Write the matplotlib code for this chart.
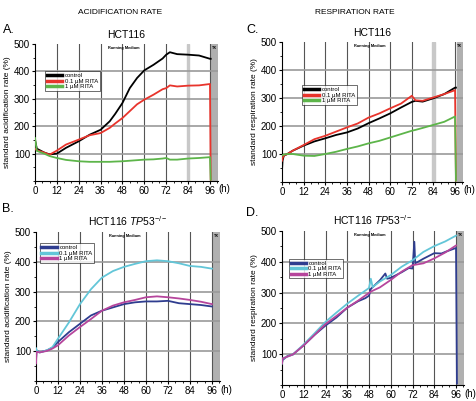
import matplotlib
matplotlib.use('Agg')
import matplotlib.pyplot as plt
from matplotlib.ticker import MultipleLocator

plt.rcParams['font.family'] = ['Liberation Sans', 'DejaVu Sans']
plt.rcParams['mathtext.fontset'] = 'custom'
plt.rcParams['mathtext.it'] = 'Liberation Sans:italic'
plt.rcParams['mathtext.rm'] = 'Liberation Sans'

labels = ['control', '0.1 \u00b5M RITA', '1 \u00b5M RITA']

# panel A: acidification, HCT116
a_hrs = [0, 1, 5, 8, 12, 17, 24, 30, 36, 41, 44, 48, 52, 56, 60, 65, 70, 72, 74, 78, 84, 90, 96, 96.4]
a_ctrl = [150, 118, 104, 97, 100, 121, 145, 169, 187, 218, 245, 285, 339, 376, 404, 424, 447, 461, 470, 463, 461, 458, 446, 446]
a_rita01 = [118, 112, 104, 96, 111, 133, 151, 167, 175, 194, 210, 230, 255, 280, 297, 315, 335, 339, 349, 345, 348, 349, 354, 5]
a_rita1 = [157, 110, 100, 91, 84, 77, 72, 70, 70, 70, 71, 72, 74, 76, 78, 79, 82, 84, 78, 78, 82, 84, 87, 5]

# panel C: respiration, HCT116
c_hrs = [0, 0.3, 1, 3, 6, 12, 18, 24, 30, 36, 42, 48, 54, 60, 66, 72, 74, 78, 84, 90, 96, 96.5]
c_ctrl = [41, 76, 94, 100, 112, 130, 145, 156, 168, 177, 191, 210, 227, 245, 266, 286, 290, 287, 299, 314, 337, 337]
c_rita01 = [76, 85, 95, 100, 112, 132, 153, 165, 180, 195, 209, 230, 245, 263, 280, 308, 292, 290, 302, 314, 328, 5]
c_rita1 = [94, 96, 98, 100, 100, 94, 93, 100, 108, 118, 127, 138, 147, 159, 171, 183, 186, 193, 204, 215, 234, 5]

# panel B: acidification, HCT116 TP53-/-
b_hrs = [0, 0.3, 2, 6, 9, 12, 18, 24, 30, 36, 42, 48, 54, 60, 66, 72, 78, 84, 90, 96]
b_ctrl = [70, 103, 96, 103, 112, 131, 164, 192, 220, 236, 247, 258, 264, 267, 267, 269, 261, 258, 255, 250]
b_rita01 = [110, 103, 96, 103, 114, 142, 197, 258, 308, 347, 369, 383, 393, 402, 405, 402, 395, 386, 383, 377]
b_rita1 = [59, 98, 96, 101, 109, 120, 153, 181, 208, 236, 253, 264, 272, 281, 284, 281, 277, 272, 266, 258]

# panel D: respiration, HCT116 TP53-/-
d_hrs_ctrl = [0, 0.3, 3, 6, 12, 18, 24, 30, 36, 42, 46, 48, 49, 54, 57, 58, 60, 66, 70, 72, 73, 73.5, 78, 84, 88, 90, 96, 96.5]
d_ctrl = [70, 81, 94, 99, 129, 163, 193, 219, 251, 272, 282, 290, 312, 340, 362, 345, 348, 366, 380, 378, 465, 395, 410, 428, 427, 432, 445, 5]
d_hrs = [0, 0.3, 6, 12, 18, 24, 30, 36, 42, 48, 49, 50, 54, 60, 66, 72, 78, 84, 90, 96]
d_rita01 = [70, 86, 99, 132, 168, 205, 235, 264, 290, 315, 345, 318, 336, 357, 384, 405, 432, 451, 466, 485]
d_rita1 = [70, 86, 99, 129, 163, 198, 224, 251, 274, 299, 303, 306, 317, 341, 368, 389, 395, 411, 430, 453]

col_p53 = ['black', '#e8342c', '#5db54a']
col_ko = ['#2f3d8f', '#63c6d8', '#b6459c']

W, H = 477, 401


def px_rect(left, top, right, bottom):
    return [left / W, 1 - bottom / H, (right - left) / W, (bottom - top) / H]


def draw_panel(rect, series, colors, title, ylabel, letter, letter_xy, leg_xy, light84=False):
    ax = fig.add_axes(rect)
    ax.set_xlim(0, 100.4)
    ax.set_ylim(0, 500)
    ax.axvspan(96.8, 100.4, color='#b0b0b0', zorder=0)
    if light84:
        ax.axvspan(83.4, 84.6, color='#c8c8c8', zorder=0)
    for x in range(12, 97, 12):
        if light84 and x == 84:
            continue
        ax.axvline(x, color='#555555', lw=0.8, zorder=1)
    for y in (100, 200, 300, 400):
        ax.axhline(y, color='#9a9a9a', lw=1.2, zorder=1)
    handles = []
    for (h, v), c, lab in zip(series, colors, labels):
        ln, = ax.plot(h, v, color=c, lw=1.3, label=lab, zorder=3)
        handles.append(ln)
    ax.set_xticks(range(0, 97, 12))
    ax.set_yticks([100, 200, 300, 400, 500])
    ax.xaxis.set_minor_locator(MultipleLocator(4))
    ax.yaxis.set_minor_locator(MultipleLocator(50))
    ax.tick_params(labelsize=7, length=2, width=0.8, pad=1.5)
    ax.tick_params(which='minor', length=1.2, width=0.6)
    for s in ('top', 'right'):
        ax.spines[s].set_visible(False)
    ax.set_title(title, fontsize=7.5, pad=4)
    ax.set_ylabel(ylabel, fontsize=6, labelpad=2)
    ax.text(1.0, -0.025, '(h)', transform=ax.transAxes, fontsize=7,
            ha='left', va='top')
    ax.text(48.5, 492, 'Running Medium', fontsize=2.8, fontweight='bold',
            ha='center', va='top')
    ax.text(98.6, 492, 'TX', fontsize=2.8, fontweight='bold',
            ha='center', va='top')
    leg = ax.legend(handles=handles, loc='upper left', bbox_to_anchor=leg_xy,
                    fontsize=4.3, frameon=True, fancybox=False, handlelength=2.6,
                    handletextpad=0.4, borderpad=0.3, labelspacing=0.05,
                    borderaxespad=0)
    leg.get_frame().set_edgecolor('black')
    leg.get_frame().set_linewidth(0.5)
    for ln in leg.get_lines():
        ln.set_linewidth(2.5)
    fig.text(letter_xy[0] / W, 1 - letter_xy[1] / H, letter, fontsize=9,
             ha='left', va='center')
    return ax


fig = plt.figure(figsize=(W / 100, H / 100), dpi=100)

ko_title = r'HCT116 $TP53^{-/-}$'
draw_panel(px_rect(35, 44, 218, 181),
           [(a_hrs, a_ctrl), (a_hrs, a_rita01), (a_hrs, a_rita1)], col_p53,
           'HCT116', 'standard acidification rate (%)', 'A.', (3, 30), (0.055, 0.80),
           light84=True)
draw_panel(px_rect(282, 42, 463, 182),
           [(c_hrs, c_ctrl), (c_hrs, c_rita01), (c_hrs, c_rita1)], col_p53,
           'HCT116', 'standard respiration rate (%)', 'C.', (246, 30), (0.11, 0.69),
           light84=True)
draw_panel(px_rect(36, 232, 220, 381),
           [(b_hrs, b_ctrl), (b_hrs, b_rita01), (b_hrs, b_rita1)], col_ko,
           ko_title, 'standard acidification rate (%)', 'B.', (2, 209), (0.02, 0.925))
draw_panel(px_rect(282, 231, 464, 385),
           [(d_hrs_ctrl, d_ctrl), (d_hrs, d_rita01), (d_hrs, d_rita1)], col_ko,
           ko_title, 'standard respiration rate (%)', 'D.', (246, 213), (0.037, 0.82))

fig.text(120 / W, 1 - 12 / H, 'ACIDIFICATION RATE', fontsize=6, ha='center', va='center')
fig.text(355 / W, 1 - 12 / H, 'RESPIRATION RATE', fontsize=6, ha='center', va='center')

fig.savefig('out.png', dpi=100)
